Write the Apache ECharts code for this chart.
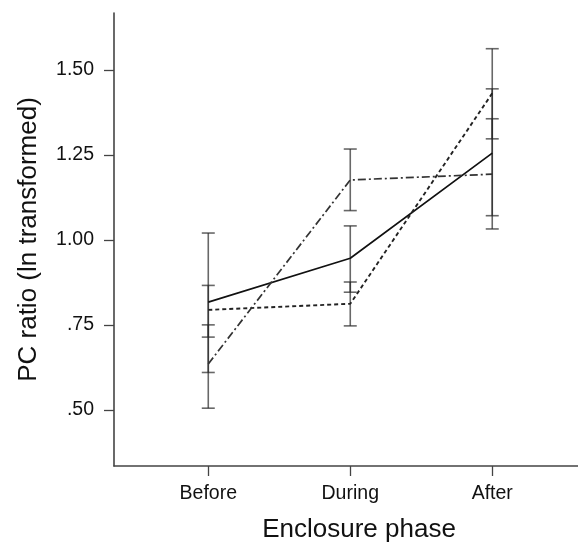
<!DOCTYPE html>
<html>
<head>
<meta charset="utf-8">
<script src="https://cdn.jsdelivr.net/npm/echarts@6/dist/echarts.min.js"></script>
<style>html,body{margin:0;padding:0;background:#fff;}#c{width:578px;height:542px;}</style>
</head>
<body>
<div id="c"></div>
<script>
var categories = ['Before', 'During', 'After'];
var yTicks = [0.5, 0.75, 1.0, 1.25, 1.5];

var solidMean = [0.817, 0.946, 1.255];
var solidLow = [0.610, 0.846, 1.071];
var solidHigh = [1.020, 1.041, 1.444];

var dashedMean = [0.794, 0.812, 1.431];
var dashedLow = [0.714, 0.747, 1.297];
var dashedHigh = [0.866, 0.876, 1.562];

var dashDotMean = [0.635, 1.176, 1.193];
var dashDotLow = [0.505, 1.086, 1.032];
var dashDotHigh = [0.750, 1.267, 1.356];

var FONT = "'Liberation Sans', Arial, sans-serif";
var xPos = categories.map(function (c, i) { return i + 1; });

function pts(means) { return means.map(function (m, i) { return [xPos[i], m]; }); }
function bars(lo, hi) { return lo.map(function (l, i) { return [xPos[i], l, hi[i]]; }); }

function renderErr(params, api) {
  var x = api.value(0);
  var p1 = api.coord([x, api.value(1)]);
  var p2 = api.coord([x, api.value(2)]);
  var hw = 6.5;
  var st = { stroke: 'rgba(40,40,40,0.7)', lineWidth: 1.6, fill: null };
  return {
    type: 'group',
    children: [
      { type: 'line', shape: { x1: p1[0], y1: p1[1], x2: p2[0], y2: p2[1] }, style: st },
      { type: 'line', shape: { x1: p1[0] - hw, y1: p1[1], x2: p1[0] + hw, y2: p1[1] }, style: st },
      { type: 'line', shape: { x1: p2[0] - hw, y1: p2[1], x2: p2[0] + hw, y2: p2[1] }, style: st }
    ]
  };
}

var chart = echarts.init(document.getElementById('c'), null, { renderer: 'canvas' });
chart.setOption({
  animation: false,
  backgroundColor: '#fff',
  grid: { left: 114, right: 0, top: 13, bottom: 76, containLabel: false, outerBoundsMode: 'none' },
  xAxis: {
    type: 'value', min: 0.336, max: 3.604,
    splitLine: { show: false },
    axisLine: { show: true, lineStyle: { color: '#444', width: 1.6 } },
    axisTick: { show: true, length: 10, lineStyle: { color: '#444', width: 1.3 }, customValues: xPos },
    axisLabel: {
      customValues: xPos, margin: 18, fontSize: 19.5, fontFamily: FONT, color: '#111',
      formatter: function (v) { return categories[Math.round(v) - 1] || ''; }
    },
    name: 'Enclosure phase', nameLocation: 'middle', nameGap: 51,
    nameTextStyle: { fontSize: 26, fontFamily: FONT, color: '#111', padding: [0, 0, 0, 26] }
  },
  yAxis: {
    type: 'value', min: 0.335, max: 1.667,
    splitLine: { show: false },
    axisLine: { show: true, lineStyle: { color: '#444', width: 1.6 } },
    axisTick: { show: true, length: 10, lineStyle: { color: '#444', width: 1.3 }, customValues: yTicks },
    axisLabel: {
      customValues: yTicks, margin: 20, fontSize: 19.5, fontFamily: FONT, color: '#111',
      formatter: function (v) { var s = v.toFixed(2); return s.charAt(0) === '0' ? s.slice(1) : s; }
    },
    name: 'PC ratio (ln transformed)', nameLocation: 'middle', nameGap: 72,
    nameTextStyle: { fontSize: 26, fontFamily: FONT, color: '#111' }
  },
  series: [
    { type: 'custom', renderItem: renderErr, data: bars(solidLow, solidHigh), z: 1 },
    { type: 'custom', renderItem: renderErr, data: bars(dashedLow, dashedHigh), z: 1 },
    { type: 'custom', renderItem: renderErr, data: bars(dashDotLow, dashDotHigh), z: 1 },
    { type: 'line', data: pts(solidMean), symbol: 'none', z: 3,
      lineStyle: { color: '#111', width: 1.7, type: 'solid' } },
    { type: 'line', data: pts(dashedMean), symbol: 'none', z: 3,
      lineStyle: { color: '#222', width: 1.9, type: [4, 3] } },
    { type: 'line', data: pts(dashDotMean), symbol: 'none', z: 3,
      lineStyle: { color: '#333', width: 1.7, type: [8, 3, 2, 3] } }
  ]
});
</script>
</body>
</html>
